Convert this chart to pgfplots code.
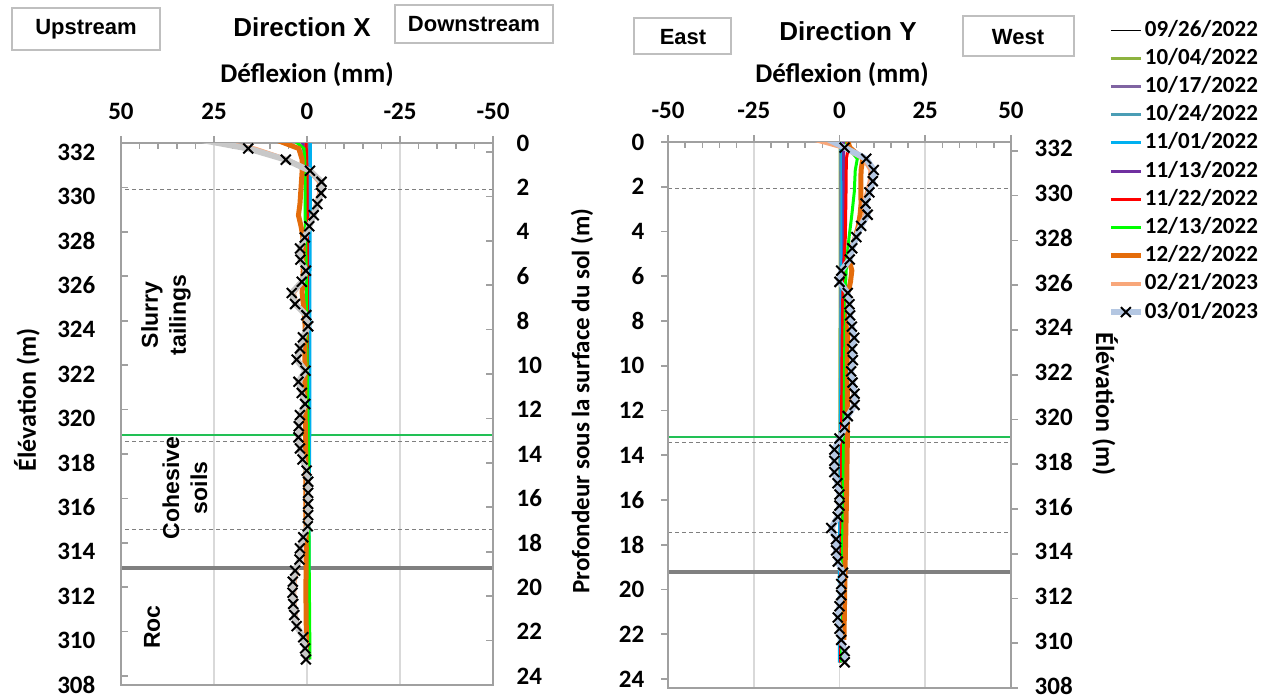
\documentclass[border=0pt]{standalone}
\usepackage{pgfplots}
\pgfplotsset{compat=1.18}
\usepackage{fontspec}
\setmainfont{Carlito}
\newfontfamily\arial{Liberation Sans}
\definecolor{c0926}{HTML}{000000}
\definecolor{c1004}{HTML}{8DB33F}
\definecolor{c1017}{HTML}{8064A2}
\definecolor{c1024}{HTML}{4A9DB5}
\definecolor{c1101}{HTML}{00B0F0}
\definecolor{c1113}{HTML}{7030A0}
\definecolor{c1122}{HTML}{FF0000}
\definecolor{c1213}{HTML}{00FF00}
\definecolor{c1222}{HTML}{E46C0A}
\definecolor{c0221}{HTML}{F8A77A}
\definecolor{c0301}{HTML}{B4C7E2}
\definecolor{c0301g}{HTML}{C8C8C8}
\definecolor{framegray}{HTML}{A0A0A0}
\definecolor{gridgray}{HTML}{D9D9D9}
\definecolor{boxgray}{HTML}{BFBFBF}
\definecolor{dashgray}{HTML}{7F7F7F}
\definecolor{layergreen}{HTML}{22C055}
\definecolor{rockgray}{HTML}{808080}
\pgfplotsset{
  frame/.style={
    scale only axis, anchor=north west,
    xmin=-50, xmax=50,
    axis line style={framegray, line width=1pt},
    tick style={framegray, line width=0.8pt},
    major tick length=3.5pt, minor tick length=3pt,
    tick align=outside,
    /pgf/number format/assume math mode=true,
    ticklabel style={font=\bfseries\fontsize{12.5}{13}\selectfont},
    yticklabel style={inner ysep=0pt, text depth=0pt},
  },
  topx/.style={
    xtick={-50,-25,0,25,50}, minor x tick num=4,
    xtick pos=top, xticklabel pos=top,
    every minor x tick/.append style={yshift=-3pt},
    xmajorgrids, major x grid style={gridgray, line width=0.75pt},
    xticklabel style={yshift=4.8pt},
  },
  xmark/.style={mark=x, mark size=3.5pt, mark options={black, line width=1pt, solid}},
}
\begin{document}
\begin{tikzpicture}
\useasboundingbox (0,0) rectangle (632.5pt,-349.5pt);

% ================= LEFT PLOT (Direction X) =================
\begin{axis}[frame, topx, at={(60.5pt,-71.5pt)}, width=186pt, height=271pt,
  x dir=reverse, y dir=reverse, ymin=0, ymax=24.4,
  ytick={0,2,...,24}, ytick pos=left, yticklabel pos=right,
  every major y tick/.append style={xshift=3.5pt},
  yticklabel style={xshift=4.8pt},
]
\draw[dashgray, dash pattern=on 2pt off 1.5pt, line width=0.5pt] (axis cs:-50,2.1) -- (axis cs:50,2.1);
\draw[dashgray, dash pattern=on 2pt off 1.5pt, line width=0.5pt] (axis cs:-50,13.42) -- (axis cs:50,13.42);
\draw[layergreen, line width=1pt] (axis cs:50,13.15) -- (axis cs:-50,13.15);
\draw[dashgray, dash pattern=on 2pt off 1.5pt, line width=0.5pt] (axis cs:-50,17.4) -- (axis cs:50,17.4);
\draw[rockgray, line width=2pt] (axis cs:-50,19.15) -- (axis cs:50,19.15);

\addplot[c0926, line width=0.5pt] coordinates {(0,-0.25) (0,23.25)};
\addplot[c1004, line width=1.5pt] coordinates {(0.3,-0.25) (0.1,0.25) (0,2) (-0.1,6) (-0.1,12) (-0.2,18) (-0.2,23.25)};
\addplot[c1017, line width=1.5pt] coordinates {(0.6,-0.25) (0.2,0.25) (0,2) (-0.2,8) (-0.3,14) (-0.3,23.25)};
\addplot[c1024, line width=1.5pt] coordinates {(-0.4,-0.25) (-0.5,0.25) (-0.5,4) (-0.5,10) (-0.4,16) (-0.3,23.25)};
\addplot[c1101, line width=1.5pt] coordinates {(-0.9,-0.25) (-0.9,0.25) (-0.9,2) (-0.8,6) (-0.8,12) (-0.6,16) (-0.5,23.25)};
\addplot[c1113, line width=1.5pt] coordinates {(1.5,-0.25) (0.9,0.25) (0.7,0.75) (0.3,1.25) (0,2.25) (0,8) (-0.2,14) (-0.3,23.25)};
\addplot[c1122, line width=1.5pt] coordinates {(0.3,-0.25) (0.2,0.25) (0.1,0.75) (0,1.25) (-0.1,4) (-0.1,10) (-0.2,16) (-0.3,23.25)};
\addplot[c1213, line width=1.5pt] coordinates {(4.5,-0.25) (0.8,0.25) (0.6,0.75) (0.5,1.75) (0.5,3.25) (0.3,4.75) (0.1,6.75) (0,9.25) (-0.2,11.75) (-0.4,14.25) (-0.5,16.75) (-0.6,19.25) (-0.7,21.25) (-0.8,23.25)};
\addplot[c1222, line width=2.5pt] coordinates {(10,-0.25) (2.2,0.25) (1.3,0.75) (1.3,1.25) (1.5,1.75) (1.7,2.25) (1.9,2.75) (2.3,3.25) (1.6,3.75) (1.1,4.25) (1.0,4.75) (1.1,5.25) (1.0,5.75) (1.2,6.25) (1.3,6.75) (1.0,7.25) (0.7,7.75) (0.5,8.25) (0.6,9.25) (0.5,10.25) (0.6,11.25) (0.5,12.25) (0.4,13.25) (0.3,14.25) (0.3,16.25) (0.2,18.25) (0.3,20.25) (0.2,21.75) (0.2,22.75)};
\addplot[c0221, line width=2pt] coordinates {(30,-0.25) (14,0.25) (5,0.75) (-0.5,1.25) (-3.2,1.75) (-3.3,2.25) (-2.4,2.75) (-1.4,3.25) (-0.3,3.75) (0.6,4.25) (1.6,4.75) (1.5,5.25) (0.4,5.75) (1.3,6.25) (3.5,6.75) (2.8,7.25) (0.3,7.75) (-0.1,8.25) (1.0,8.75) (1.7,9.25) (2.4,9.75) (0.5,10.25) (2.0,10.75) (1.3,11.25) (0.6,11.75) (1.7,12.25) (2.0,12.75) (2.0,13.25) (1.7,13.75) (1.1,14.25) (0.2,14.75) (-0.2,15.25) (-0.2,16.25) (-0.2,17.25) (0.9,17.75) (1.7,18.25) (1.8,18.75) (2.8,19.25) (3.3,19.75) (3.4,20.25) (3.3,20.75) (3.0,21.25) (2.5,21.75) (0.9,22.25) (0.5,22.75) (0.3,23.25)};
\addplot[c0301g, line width=3pt, xmark] coordinates {
(32,-0.25) (15.8,0.25) (5.7,0.75) (-0.8,1.25) (-3.9,1.75) (-3.8,2.25) (-2.8,2.75) (-1.8,3.25) (-0.6,3.75) (0.6,4.25) (1.9,4.75) (1.8,5.25) (0.3,5.75) (1.4,6.25) (4.1,6.75) (3.2,7.25) (0.2,7.75) (-0.3,8.25) (1.1,8.75) (1.9,9.25) (2.8,9.75) (0.4,10.25) (2.3,10.75) (1.4,11.25) (0.5,11.75) (1.9,12.25) (2.2,12.75) (2.3,13.25) (1.9,13.75) (1.2,14.25) (0.1,14.75) (-0.3,15.25) (-0.3,15.75) (-0.3,16.25) (-0.3,16.75) (-0.2,17.25) (1.0,17.75) (1.9,18.25) (2.0,18.75) (3.2,19.25) (3.8,19.75) (3.9,20.25) (3.7,20.75) (3.4,21.25) (2.8,21.75) (1.0,22.25) (0.5,22.75) (0.3,23.25)};
\end{axis}
\begin{axis}[frame, at={(60.5pt,-71.5pt)}, width=186pt, height=271pt,
  x dir=reverse, hide x axis, ymin=308, ymax=332.4,
  ytick={308,310,...,332}, ytick pos=right, yticklabel pos=left,
  every major y tick/.append style={xshift=-3.5pt},
  yticklabel style={xshift=-5.8pt},
]
\end{axis}

% ================= RIGHT PLOT (Direction Y) =================
\begin{axis}[frame, topx, at={(334pt,-71pt)}, width=171.5pt, height=273pt,
  y dir=reverse, ymin=0, ymax=24.4,
  ytick={0,2,...,24}, ytick pos=left, yticklabel pos=left,
  yticklabel style={xshift=-4.8pt},
  legend entries={09/26/2022,10/04/2022,10/17/2022,10/24/2022,11/01/2022,11/13/2022,11/22/2022,12/13/2022,12/22/2022,02/21/2023,03/01/2023},
  legend style={at={(axis description cs:1.2825,1.227)}, anchor=north west,
    draw=none, fill=none, inner sep=0pt, outer sep=0pt,
    font=\bfseries\fontsize{11.5}{12}\selectfont,
    row sep=2.1pt,
    nodes={inner sep=0.5pt, text height=8.5pt, text depth=2.5pt},
    cells={anchor=west}},
  legend image code/.code={\draw[mark repeat=2, mark phase=2, #1] plot coordinates {(0pt,0pt) (7.5pt,0pt) (15pt,0pt)};},
]
\draw[dashgray, dash pattern=on 2pt off 1.5pt, line width=0.5pt] (axis cs:-50,2.1) -- (axis cs:50,2.1);
\draw[dashgray, dash pattern=on 2pt off 1.5pt, line width=0.5pt] (axis cs:-50,13.45) -- (axis cs:50,13.45);
\draw[layergreen, line width=1pt] (axis cs:-50,13.2) -- (axis cs:50,13.2);
\draw[dashgray, dash pattern=on 2pt off 1.5pt, line width=0.5pt] (axis cs:-50,17.45) -- (axis cs:50,17.45);
\draw[rockgray, line width=2pt] (axis cs:-50,19.2) -- (axis cs:50,19.2);

\addplot[c0926, line width=0.5pt] coordinates {(0,-0.25) (0,23.25)};
\addplot[c1004, line width=1.5pt] coordinates {(0.2,-0.25) (0.2,4) (0.1,12) (0,23.25)};
\addplot[c1017, line width=1.5pt] coordinates {(0.4,-0.25) (0.4,4) (0.3,12) (0.2,23.25)};
\addplot[c1024, line width=1.5pt] coordinates {(0.3,-0.25) (0.5,2) (0.3,10) (0.1,23.25)};
\addplot[c1101, line width=1.5pt] coordinates {(0.6,-0.25) (0.7,0.25) (0.9,2) (0.7,6) (0.3,12) (0,18) (0,23.25)};
\addplot[c1113, line width=1.5pt] coordinates {(1.0,-0.25) (1.2,0.25) (1.3,4) (1.1,8) (0.9,12) (0.6,18) (0.4,23.25)};
\addplot[c1122, line width=1.5pt] coordinates {(2.2,-0.25) (2.6,0.25) (2.0,0.75) (1.9,2.25) (1.7,4.25) (1.2,5.75) (0.9,7.25) (0.7,10) (0.5,16) (0.3,23.25)};
\addplot[c1213, line width=1.5pt] coordinates {(1.5,-0.25) (2.5,0.25) (5.2,0.75) (4.6,1.25) (4.3,2.25) (3.6,3.25) (2.8,4.25) (2.1,5.25) (1.8,6.25) (1.6,8.25) (1.3,12.25) (1.0,16.25) (0.8,20.25) (0.6,23.25)};
\addplot[c1222, line width=2.5pt] coordinates {(2,-0.25) (3,0.25) (6.8,0.75) (6.3,1.25) (6.2,1.75) (6.2,2.25) (6.3,2.75) (6.0,3.25) (5.5,3.75) (4.6,4.25) (3.5,4.75) (2.8,5.25) (3.6,5.75) (3.2,6.25) (2.5,6.75) (2.4,7.75) (2.3,10.25) (2.3,13.25) (2.0,16.25) (1.6,19.25) (1.3,22.25)};
\addplot[c0221, line width=2pt] coordinates {(-11,-0.25) (1.0,0.25) (7.0,0.75) (9.0,1.25) (8.8,1.75) (8.0,2.25) (7.0,2.75) (7.5,3.25) (5.8,3.75) (4.5,4.25) (3.4,4.75) (2.8,5.25) (0.6,5.75) (0.2,6.25) (2.2,6.75) (2.6,7.25) (2.8,7.75) (3.3,8.25) (3.9,8.75) (3.4,9.25) (3.5,9.75) (3.1,10.25) (3.4,10.75) (4.0,11.25) (4.0,11.75) (2.2,12.25) (1.4,12.75) (0.1,13.25) (-1.2,13.75) (-1.2,14.25) (-1.2,14.75) (-0.4,15.25) (0.1,15.75) (0.1,16.25) (-0.3,16.75) (-2.0,17.25) (-0.8,17.75) (-0.8,18.25) (-0.3,18.75) (1.0,19.25) (0.6,19.75) (0.6,20.25) (0.1,20.75) (-0.3,21.25) (0.1,21.75) (0.6,22.25) (1.4,22.75) (1.4,23.25)};
\addplot[c0301, line width=3pt, xmark] coordinates {
(-5,-0.25) (1.5,0.25) (7.8,0.75) (10.0,1.25) (9.7,1.75) (8.7,2.25) (7.6,2.75) (8.2,3.25) (6.3,3.75) (4.9,4.25) (3.7,4.75) (3.0,5.25) (0.5,5.75) (0,6.25) (2.4,6.75) (2.9,7.25) (3.1,7.75) (3.6,8.25) (4.3,8.75) (3.7,9.25) (3.9,9.75) (3.4,10.25) (3.8,10.75) (4.4,11.25) (4.4,11.75) (2.4,12.25) (1.5,12.75) (0,13.25) (-1.5,13.75) (-1.5,14.25) (-1.5,14.75) (-0.6,15.25) (0,15.75) (0,16.25) (-0.5,16.75) (-2.4,17.25) (-1.0,17.75) (-1.0,18.25) (-0.5,18.75) (1.0,19.25) (0.5,19.75) (0.5,20.25) (0,20.75) (-0.5,21.25) (0,21.75) (0.5,22.25) (1.5,22.75) (1.5,23.25)};
\end{axis}
\begin{axis}[frame, at={(334pt,-71pt)}, width=171.5pt, height=273pt,
  hide x axis, ymin=308, ymax=332.4,
  ytick={308,310,...,332}, ytick pos=right, yticklabel pos=right,
  yticklabel style={xshift=4.8pt, yshift=1.2pt},
]
\end{axis}

% ================= Texts =================
\draw[boxgray, line width=0.75pt] (6pt,-4pt) rectangle (80pt,-25pt);
\node[font=\arial\bfseries\fontsize{11}{13}\selectfont] at (43pt,-14.5pt) {Upstream};
\draw[boxgray, line width=0.75pt] (197.5pt,-2.5pt) rectangle (276.5pt,-21.5pt);
\node[font=\arial\bfseries\fontsize{11}{13}\selectfont] at (237pt,-12pt) {Downstream};
\draw[boxgray, line width=0.75pt] (317pt,-9pt) rectangle (365.5pt,-27pt);
\node[font=\arial\bfseries\fontsize{11}{13}\selectfont] at (341.5pt,-18.5pt) {East};
\draw[boxgray, line width=0.75pt] (481.5pt,-8pt) rectangle (537pt,-28pt);
\node[font=\arial\bfseries\fontsize{11}{13}\selectfont] at (509pt,-18.5pt) {West};
\node[font=\arial\bfseries\fontsize{13}{15}\selectfont] at (151pt,-13.5pt) {Direction X};
\node[font=\arial\bfseries\fontsize{13}{15}\selectfont] at (424pt,-15.5pt) {Direction Y};
\node[font=\bfseries\fontsize{13.5}{15}\selectfont] at (153.5pt,-37.5pt) {Déflexion (mm)};
\node[font=\bfseries\fontsize{13.5}{15}\selectfont] at (421pt,-37.5pt) {Déflexion (mm)};
\node[font=\bfseries\fontsize{13}{15}\selectfont, rotate=90] at (13.5pt,-200pt) {Élévation (m)};
\node[font=\bfseries\fontsize{12.5}{15}\selectfont, rotate=90] at (291pt,-200.5pt) {Profondeur sous la surface du sol (m)};
\node[font=\bfseries\fontsize{13}{15}\selectfont, rotate=-90] at (552.5pt,-202pt) {Élévation (m)};
\node[font=\arial\bfseries\fontsize{11.5}{14}\selectfont, rotate=90, align=center] at (83pt,-157.5pt) {Slurry\\tailings};
\node[font=\arial\bfseries\fontsize{11.5}{14}\selectfont, rotate=90, align=center] at (92.5pt,-244pt) {Cohesive\\soils};
\node[font=\arial\bfseries\fontsize{11.5}{14}\selectfont, rotate=90] at (76pt,-313.5pt) {Roc};
\end{tikzpicture}
\end{document}
